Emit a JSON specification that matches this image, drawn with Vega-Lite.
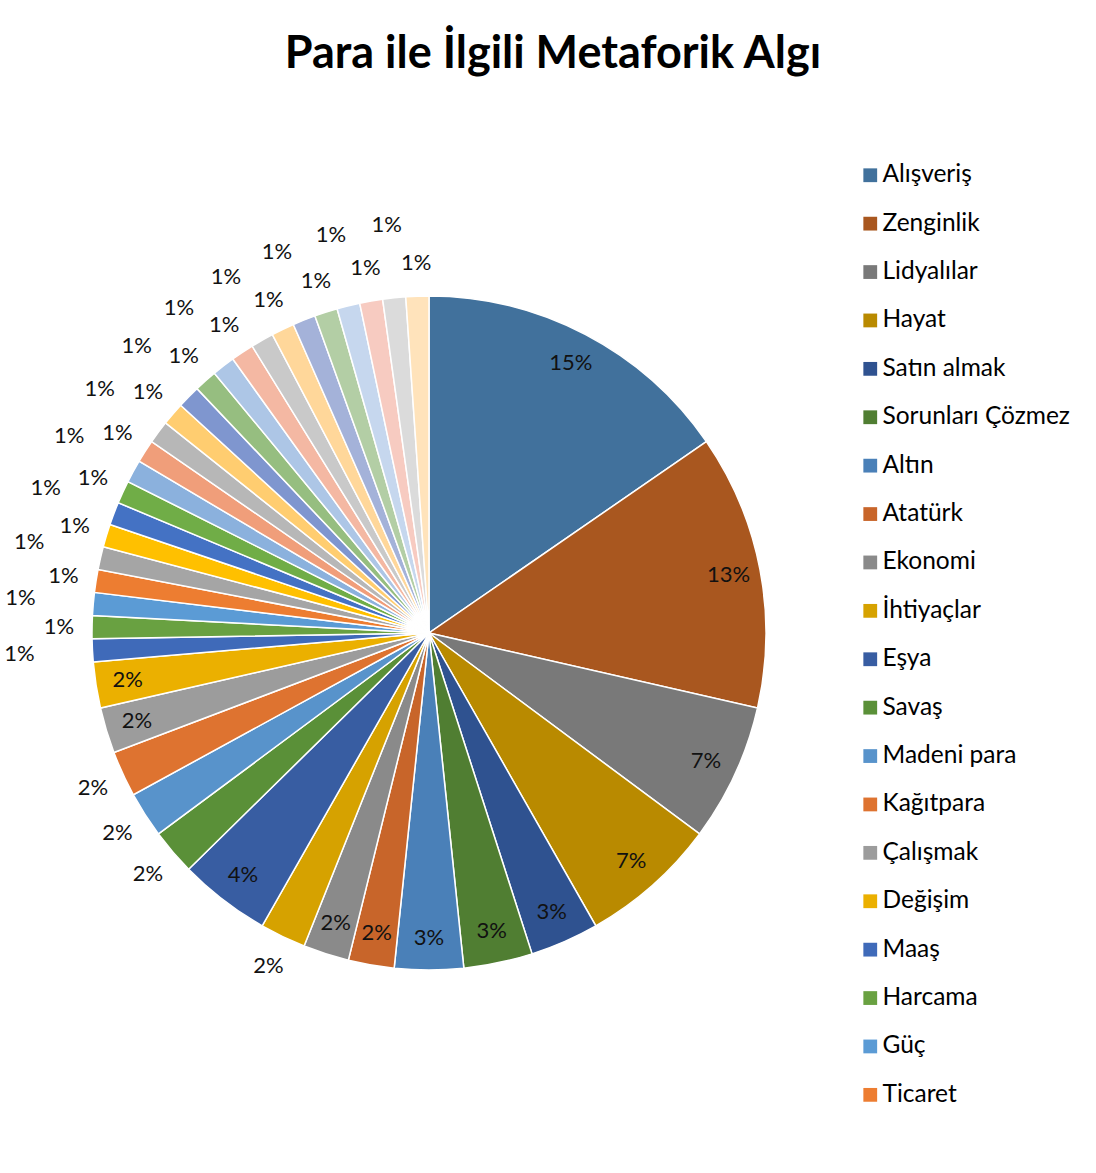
{
 "$schema": "https://vega.github.io/schema/vega-lite/v6.json",
 "width": 842, "height": 1066,
 "autosize": "none",
 "padding": {"left": 8, "top": 100, "right": 246, "bottom": 7},
 "background": "white",
 "config": {"view": {"stroke": null}, "font": "Lato", "text": {"font": "Lato"}},
 "title": {"text": "Para ile İlgili Metaforik Algı", "fontSize": 45, "fontWeight": "bold", "color": "#000000", "anchor": "middle", "dx": 124, "offset": 23, "font": "Lato"},
 "data": {"values": [
  {"idx": 1, "cat": "Alışveriş", "n": 14, "pct": "15%"},
  {"idx": 2, "cat": "Zenginlik", "n": 12, "pct": "13%"},
  {"idx": 3, "cat": "Lidyalılar", "n": 6, "pct": "7%"},
  {"idx": 4, "cat": "Hayat", "n": 6, "pct": "7%"},
  {"idx": 5, "cat": "Satın almak", "n": 3, "pct": "3%"},
  {"idx": 6, "cat": "Sorunları Çözmez", "n": 3, "pct": "3%"},
  {"idx": 7, "cat": "Altın", "n": 3, "pct": "3%"},
  {"idx": 8, "cat": "Atatürk", "n": 2, "pct": "2%"},
  {"idx": 9, "cat": "Ekonomi", "n": 2, "pct": "2%"},
  {"idx": 10, "cat": "İhtiyaçlar", "n": 2, "pct": "2%"},
  {"idx": 11, "cat": "Eşya", "n": 4, "pct": "4%"},
  {"idx": 12, "cat": "Savaş", "n": 2, "pct": "2%"},
  {"idx": 13, "cat": "Madeni para", "n": 2, "pct": "2%"},
  {"idx": 14, "cat": "Kağıtpara", "n": 2, "pct": "2%"},
  {"idx": 15, "cat": "Çalışmak", "n": 2, "pct": "2%"},
  {"idx": 16, "cat": "Değişim", "n": 2, "pct": "2%"},
  {"idx": 17, "cat": "Maaş", "n": 1, "pct": "1%"},
  {"idx": 18, "cat": "Harcama", "n": 1, "pct": "1%"},
  {"idx": 19, "cat": "Güç", "n": 1, "pct": "1%"},
  {"idx": 20, "cat": "Ticaret", "n": 1, "pct": "1%"},
  {"idx": 21, "cat": "Metafor 21", "n": 1, "pct": "1%"},
  {"idx": 22, "cat": "Metafor 22", "n": 1, "pct": "1%"},
  {"idx": 23, "cat": "Metafor 23", "n": 1, "pct": "1%"},
  {"idx": 24, "cat": "Metafor 24", "n": 1, "pct": "1%"},
  {"idx": 25, "cat": "Metafor 25", "n": 1, "pct": "1%"},
  {"idx": 26, "cat": "Metafor 26", "n": 1, "pct": "1%"},
  {"idx": 27, "cat": "Metafor 27", "n": 1, "pct": "1%"},
  {"idx": 28, "cat": "Metafor 28", "n": 1, "pct": "1%"},
  {"idx": 29, "cat": "Metafor 29", "n": 1, "pct": "1%"},
  {"idx": 30, "cat": "Metafor 30", "n": 1, "pct": "1%"},
  {"idx": 31, "cat": "Metafor 31", "n": 1, "pct": "1%"},
  {"idx": 32, "cat": "Metafor 32", "n": 1, "pct": "1%"},
  {"idx": 33, "cat": "Metafor 33", "n": 1, "pct": "1%"},
  {"idx": 34, "cat": "Metafor 34", "n": 1, "pct": "1%"},
  {"idx": 35, "cat": "Metafor 35", "n": 1, "pct": "1%"},
  {"idx": 36, "cat": "Metafor 36", "n": 1, "pct": "1%"},
  {"idx": 37, "cat": "Metafor 37", "n": 1, "pct": "1%"},
  {"idx": 38, "cat": "Metafor 38", "n": 1, "pct": "1%"},
  {"idx": 39, "cat": "Metafor 39", "n": 1, "pct": "1%"},
  {"idx": 40, "cat": "Metafor 40", "n": 1, "pct": "1%"}
 ]},
 "encoding": {
  "theta": {"field": "n", "type": "quantitative", "stack": true},
  "order": {"field": "idx", "type": "quantitative"}
 },
 "layer": [
  {
   "mark": {"type": "arc", "outerRadius": 337, "stroke": "white", "strokeWidth": 1.5},
   "encoding": {
    "color": {
     "field": "cat", "type": "nominal",
     "scale": {
      "domain": ["Alışveriş","Zenginlik","Lidyalılar","Hayat","Satın almak","Sorunları Çözmez","Altın","Atatürk","Ekonomi","İhtiyaçlar","Eşya","Savaş","Madeni para","Kağıtpara","Çalışmak","Değişim","Maaş","Harcama","Güç","Ticaret","Metafor 21","Metafor 22","Metafor 23","Metafor 24","Metafor 25","Metafor 26","Metafor 27","Metafor 28","Metafor 29","Metafor 30","Metafor 31","Metafor 32","Metafor 33","Metafor 34","Metafor 35","Metafor 36","Metafor 37","Metafor 38","Metafor 39","Metafor 40"],
      "range": ["#41719C","#A9571F","#797979","#B98A00","#2F5290","#507E32","#4A80B8","#C8652A","#8A8A8A","#D6A200","#385DA2","#5A9038","#5893CB","#DE7330","#9C9C9C","#EBB000","#3F6AB9","#69A141","#5B9BD5","#ED7D31","#A5A5A5","#FFC000","#4472C4","#70AD47","#8BB1DD","#F09E7A","#B7B7B7","#FFCD70","#7F96CF","#96BE80","#ADC6E6","#F4B8A3","#C9C9C9","#FFD79A","#A4B2D9","#B3CEA5","#C6D7EE","#F7CBC1","#DBDBDB","#FFE3BB"]
     },
     "legend": {
      "values": ["Alışveriş","Zenginlik","Lidyalılar","Hayat","Satın almak","Sorunları Çözmez","Altın","Atatürk","Ekonomi","İhtiyaçlar","Eşya","Savaş","Madeni para","Kağıtpara","Çalışmak","Değişim","Maaş","Harcama","Güç","Ticaret"],
      "orient": "none", "legendX": 850, "legendY": 63, "title": null,
      "symbolType": "square", "symbolSize": 190, "symbolStrokeWidth": 0,
      "labelFontSize": 24.5, "labelFont": "Lato", "labelColor": "#000000",
      "rowPadding": 23.4, "labelOffset": 0, "padding": 0, "labelLimit": 300
     }
    }
   }
  },
  {
   "mark": {"type": "text", "radius": 305, "fontSize": 22, "color": "#111111"},
   "encoding": {
    "detail": {"field": "cat", "type": "nominal"},
    "text": {"condition": {"test": "indexof([1,2,3,4,5,6,7,8,9,11,15,16], datum.idx) >= 0", "field": "pct"}, "value": ""}
   }
  },
  {
   "mark": {"type": "text", "radius": 370, "fontSize": 22, "color": "#111111"},
   "encoding": {
    "detail": {"field": "cat", "type": "nominal"},
    "text": {"condition": {"test": "indexof([10,12,13,14], datum.idx) >= 0 || (datum.idx >= 17 && datum.idx % 2 == 0)", "field": "pct"}, "value": ""}
   }
  },
  {
   "mark": {"type": "text", "radius": 410, "fontSize": 22, "color": "#111111"},
   "encoding": {
    "detail": {"field": "cat", "type": "nominal"},
    "text": {"condition": {"test": "datum.idx >= 17 && datum.idx % 2 == 1", "field": "pct"}, "value": ""}
   }
  }
 ]
}
